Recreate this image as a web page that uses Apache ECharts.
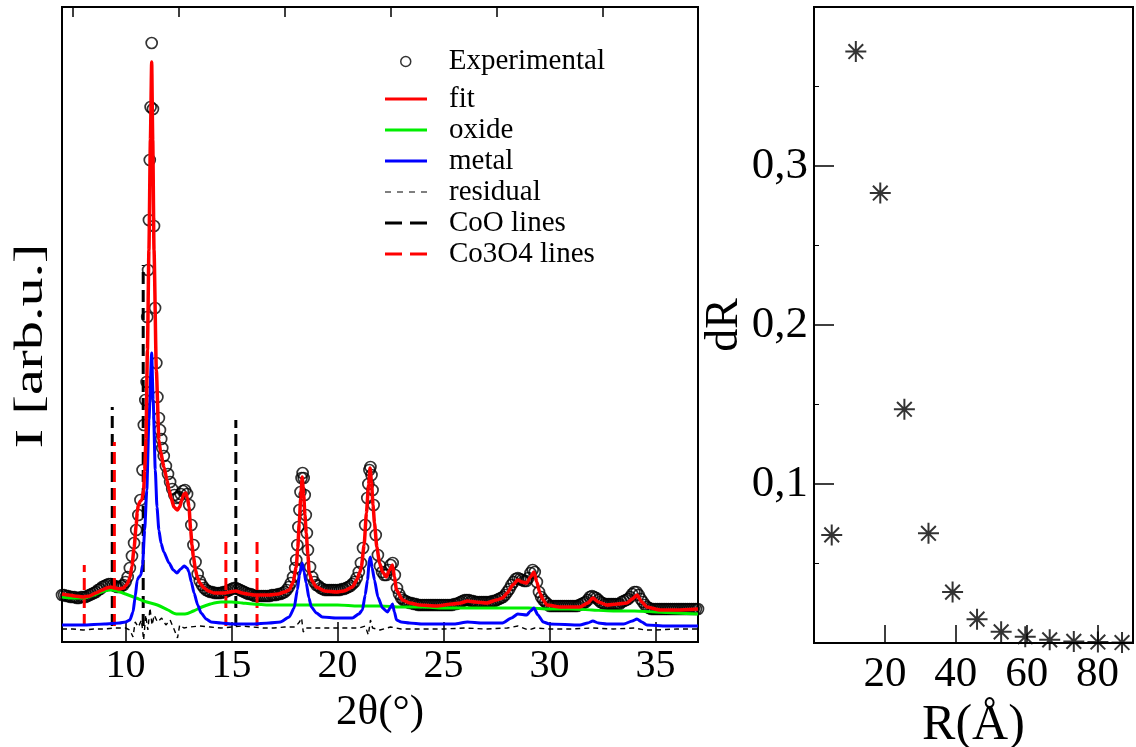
<!DOCTYPE html>
<html>
<head>
<meta charset="utf-8">
<script src="https://cdn.jsdelivr.net/npm/echarts@6/dist/echarts.min.js"></script>
<style>
html,body{margin:0;padding:0;background:#fff;}
#chart{width:1136px;height:747px;}
</style>
</head>
<body>
<div id="chart"></div>
<script>
// ---------- DATA (left panel: 2θ in degrees, intensity in arb. units) ----------
const expData = [
[7.0,47],[7.1,47],[7.2,46],[7.3,46],[7.4,45],[7.5,45],[7.6,45],[7.7,44],[7.8,44],[7.9,45],
[8.0,45],[8.1,45],[8.2,46],[8.3,47],[8.4,48],[8.5,49],[8.6,50],[8.7,52],[8.8,53],[8.9,55],
[9.0,56],[9.1,57],[9.2,58],[9.3,58],[9.4,57],[9.5,56],[9.6,55],[9.7,55],[9.8,56],[9.9,57],
[10.0,60],[10.1,65],[10.2,74],[10.3,86],[10.4,99],[10.5,112],[10.6,127],[10.7,142],[10.8,172],[10.86,217],
[10.93,242],[10.99,260],[11.02,325],[11.06,372],[11.1,422],[11.14,482],[11.18,535],[11.23,599],[11.29,533],[11.34,416],
[11.39,334],[11.45,279],[11.5,245],[11.57,224],[11.62,212],[11.68,203],[11.73,194],[11.8,186],[11.9,176],
[12.0,168],[12.1,160],[12.2,153],[12.3,147],[12.4,144],[12.5,145],[12.6,148],[12.7,151],[12.8,152],[12.9,148],
[13.0,137],[13.1,117],[13.2,97],[13.3,80],[13.4,68],[13.5,61],[13.6,57],[13.7,54],[13.8,52],[13.9,51],
[14.0,50],[14.1,50],[14.2,49],[14.3,49],[14.4,49],[14.5,49],[14.6,50],[14.7,50],[14.8,51],[14.9,52],
[15.0,53],[15.1,54],[15.2,54],[15.3,53],[15.4,52],[15.5,51],[15.6,50],[15.7,49],[15.8,48],[15.9,48],
[16.0,47],[16.1,46],[16.2,46],[16.3,46],[16.4,46],[16.5,46],[16.6,46],[16.7,46],[16.8,46],[16.9,47],
[17.0,47],[17.1,47],[17.2,48],[17.3,48],[17.4,49],[17.5,50],[17.6,52],[17.7,55],[17.8,59],[17.9,65],
[18.0,74],[18.05,82],[18.1,97],[18.15,115],[18.2,132],[18.25,150],[18.3,164],[18.35,169],[18.4,164],[18.45,147],
[18.5,127],[18.55,109],[18.6,92],[18.7,75],[18.8,65],[18.9,60],
[19.0,57],[19.1,56],[19.2,54],[19.3,53],[19.4,52],[19.5,52],[19.6,52],[19.7,52],[19.8,52],[19.9,52],
[20.0,52],[20.1,52],[20.2,53],[20.3,53],[20.4,54],[20.5,55],[20.6,56],[20.7,58],[20.8,60],[20.9,64],
[21.0,70],[21.1,79],[21.2,94],[21.3,117],[21.4,144],[21.45,158],[21.5,172],[21.55,175],[21.6,167],[21.65,152],
[21.7,137],[21.8,107],[21.9,87],
[22.0,76],[22.1,70],[22.2,67],[22.3,67],[22.4,72],[22.5,77],[22.6,79],[22.7,67],[22.8,54],[22.9,48],
[23.0,44],[23.1,42],[23.2,41],[23.3,40],[23.4,39],[23.5,39],[23.6,38],[23.7,38],[23.8,37],[23.9,37],
[24.0,37],[24.1,37],[24.2,37],[24.3,37],[24.4,37],[24.5,37],[24.6,37],[24.7,37],[24.8,37],[24.9,37],
[25.0,37],[25.1,37],[25.2,37],[25.3,37],[25.4,37],[25.5,38],[25.6,38],[25.7,39],[25.8,40],[25.9,41],
[26.0,42],[26.1,42],[26.2,42],[26.3,41],[26.4,41],[26.5,40],[26.6,40],[26.7,40],[26.8,40],[26.9,40],
[27.0,40],[27.1,40],[27.2,40],[27.3,41],[27.4,41],[27.5,42],[27.6,43],[27.7,44],[27.8,45],[27.9,47],
[28.0,50],[28.1,53],[28.2,57],[28.3,60],[28.4,63],[28.5,64],[28.6,63],[28.7,62],[28.8,61],[28.9,61],
[29.0,64],[29.1,69],[29.2,72],[29.3,70],[29.4,60],[29.5,50],[29.6,45],[29.7,42],[29.8,40],[29.9,38],
[30.0,36],[30.1,36],[30.2,36],[30.3,36],[30.4,36],[30.5,36],[30.6,36],[30.7,36],[30.8,36],[30.9,36],
[31.0,36],[31.1,36],[31.2,36],[31.3,36],[31.4,37],[31.5,38],[31.6,39],[31.7,40],[31.8,42],[31.9,45],
[32.0,46],[32.1,45],[32.2,44],[32.3,42],[32.4,40],[32.5,39],[32.6,38],[32.7,38],[32.8,38],[32.9,38],
[33.0,38],[33.1,38],[33.2,38],[33.3,38],[33.4,40],[33.5,41],[33.6,42],[33.7,43],[33.8,45],[33.9,48],
[34.0,50],[34.1,50],[34.2,47],[34.3,43],[34.4,40],[34.5,37],[34.6,35],[34.7,34],[34.8,33],[34.9,33],
[35.0,33],[35.1,33],[35.2,33],[35.3,33],[35.4,33],[35.5,33],[35.6,33],[35.7,33],[35.8,33],[35.9,33],
[36.0,33],[36.1,33],[36.2,33],[36.3,33],[36.4,33],[36.5,33],[36.6,33],[36.7,33],[36.8,33],[36.9,33],[37.0,33]
];
const fitData = [
[7.0,48],[7.3,47],[7.6,46],[8.0,45],[8.3,46],[8.6,49],[8.9,52],[9.1,54],[9.3,55],[9.5,54],[9.7,53],[9.9,54],
[10.0,56],[10.1,59],[10.2,64],[10.3,76],[10.4,94],[10.5,117],[10.55,130],[10.6,137],[10.7,141],[10.77,142],
[10.85,152],[10.9,172],[10.96,202],[11.03,292],[11.1,392],[11.17,502],[11.23,580],[11.28,502],[11.34,392],
[11.45,272],[11.57,202],[11.65,190],[11.81,175],[11.95,162],[12.05,152],[12.15,144],[12.28,135],[12.44,132],
[12.55,135],[12.65,142],[12.75,148],[12.84,149],[12.92,144],[12.99,135],[13.07,112],[13.13,97],[13.2,85],
[13.3,72],[13.38,65],[13.5,59],[13.7,54],[13.9,51],[14.17,49],[14.65,49],[14.9,50],[15.2,51],[15.5,49],
[15.75,48],[16.06,47],[16.77,47],[17.2,48],[17.5,50],[17.72,52],[17.9,60],[18.05,75],[18.12,94],[18.19,119],
[18.26,144],[18.33,165],[18.4,147],[18.46,127],[18.52,109],[18.6,87],[18.66,69],[18.8,61],[18.99,55],
[19.4,51],[19.94,50],[20.3,51],[20.7,55],[20.9,62],[21.05,70],[21.12,75],[21.25,97],[21.36,129],[21.46,157],
[21.53,174],[21.6,160],[21.67,137],[21.74,119],[21.85,95],[21.98,79],[22.12,70],[22.3,65],[22.45,72],
[22.59,77],[22.68,65],[22.78,52],[23.06,42],[23.4,39],[23.86,37],[24.67,36],[25.42,38],[25.8,39],[26.13,41],
[26.5,40],[27.03,39],[27.5,42],[27.78,44],[28.0,49],[28.26,57],[28.5,62],[28.7,60],[28.92,59],[29.1,65],
[29.26,70],[29.4,60],[29.54,49],[29.7,42],[29.87,37],[30.5,35],[31.43,35],[31.8,39],[32.04,44],[32.3,40],
[32.7,37],[33.2,38],[33.65,39],[33.9,43],[34.12,47],[34.35,40],[34.59,35],[35.21,32],[36.0,32],[37.0,33]
];
const oxideData = [
[7.0,45],[7.5,44],[8.0,44],[8.5,47],[9.0,51],[9.3,52],[9.6,51],[10.0,48],[10.5,44],[11.0,40],[11.5,37],
[12.0,32],[12.4,28],[12.8,28],[13.2,31],[13.6,35],[14.0,38],[14.5,40],[15.0,40],[15.5,39],[16.0,38],
[17.0,37],[18.0,37],[19.0,37],[20.0,37],[21.0,36],[22.0,36],[23.0,35],[24.0,35],[25.0,34],[26.0,34],
[27.0,34],[28.0,34],[29.0,34],[30.0,33],[31.0,33],[32.0,32],[33.0,31],[34.0,31],[35.0,30],[36.0,29],[37.0,28]
];
const metalData = [
[7.0,17],[8.0,17],[9.0,18],[9.7,19],[10.0,20],[10.2,22],[10.35,30],[10.45,45],[10.55,62],[10.63,65],
[10.72,67],[10.8,77],[10.9,112],[11.0,152],[11.1,222],[11.23,289],[11.3,242],[11.4,172],[11.48,135],
[11.57,112],[11.67,99],[11.8,90],[12.05,79],[12.25,72],[12.42,69],[12.6,73],[12.76,76],[12.9,74],[12.99,70],
[13.1,60],[13.23,49],[13.4,37],[13.56,29],[13.8,23],[14.03,20],[14.5,19],[15.0,18],[16.0,18],[16.77,19],
[17.3,20],[17.72,25],[17.95,34],[18.1,52],[18.2,67],[18.33,79],[18.42,70],[18.52,59],[18.65,44],[18.76,35],
[19.0,29],[19.28,25],[19.94,24],[20.7,24],[21.0,28],[21.17,32],[21.3,47],[21.41,62],[21.5,82],[21.55,85],
[21.63,74],[21.74,62],[21.9,45],[22.12,34],[22.35,30],[22.48,34],[22.59,38],[22.68,30],[22.78,22],[23.0,20],
[23.39,19],[24.0,18],[24.81,18],[25.5,18],[26.13,20],[26.8,19],[27.78,19],[28.2,24],[28.5,28],[28.92,27],
[29.1,31],[29.26,34],[29.45,27],[29.7,20],[30.0,18],[31.43,17],[31.8,19],[32.04,21],[32.3,19],[32.7,18],
[33.5,18],[33.9,21],[34.12,23],[34.35,20],[34.59,17],[35.5,16],[37.0,16]
];
const residualData = [
[7.0,13],[7.5,13],[8.0,12],[8.5,13],[9.0,13],[9.5,14],[10.0,14],[10.2,12],[10.35,5],[10.45,20],[10.6,15],
[10.75,22],[10.85,2],[10.95,27],[11.05,12],[11.15,34],[11.25,17],[11.35,27],[11.5,20],[11.7,24],[11.9,17],
[12.1,22],[12.3,12],[12.45,4],[12.55,17],[12.75,14],[13.0,15],[13.5,16],[14.0,15],[14.5,14],[15.0,15],
[15.5,16],[16.0,15],[16.5,14],[17.0,14],[17.5,15],[18.0,15],[18.2,20],[18.3,24],[18.38,10],[18.5,14],
[19.0,14],[20.0,14],[21.0,14],[21.3,16],[21.45,7],[21.55,22],[21.65,14],[22.0,12],[22.5,15],[23.0,13],
[24.0,13],[25.0,13],[26.0,14],[27.0,13],[28.0,14],[28.5,16],[29.0,12],[29.3,14],[30.0,13],[31.0,13],
[32.0,14],[33.0,13],[34.0,14],[34.5,12],[35.0,12],[36.0,13],[37.0,13]
];
// reference line positions [2θ, top intensity]; they start at the baseline value
const lineBase = 16;
const cooLines = [[9.37,235],[10.83,377],[15.2,222]];
const co3o4Lines = [[8.05,77],[9.47,200],[14.73,103],[16.2,106]];
const thetaMajorTicks = [10,15,20,25,30,35];
const thetaMinorTicks = [7.5,12.5,17.5,22.5,27.5,32.5];

// ---------- DATA (right panel) ----------
const sizeR = [5.0,11.8,18.7,25.5,32.3,39.1,46.0,52.8,59.6,66.5,73.3,80.1,86.9];
const dRvals = [0.068,0.372,0.283,0.147,0.069,0.032,0.015,0.007,0.004,0.002,0.001,0.0006,0.0003];
const rTicks = [20,40,60,80];
const dRTicks = [0.1,0.2,0.3];
const dRMinorTicks = [0.05,0.15,0.25,0.35];

// ---------- CHART ----------
const FONT = 'Liberation Serif';
const chart = echarts.init(document.getElementById('chart'), null, {renderer:'canvas'});

const series = [];
series.push({
  name:'Experimental', type:'scatter', xAxisIndex:0, yAxisIndex:0,
  data: expData, symbol:'circle', symbolSize:11, z:2,
  itemStyle:{color:'rgba(0,0,0,0)', borderColor:'#000', borderWidth:1.7},
  emphasis:{disabled:true}
});
series.push({name:'residual', type:'line', xAxisIndex:0, yAxisIndex:0, data:residualData,
  symbol:'none', z:3, lineStyle:{color:'#000', width:1.4, type:[5,4]}, itemStyle:{color:'#000'}});
cooLines.forEach(p => series.push({name:'CoO lines', type:'line', xAxisIndex:0, yAxisIndex:0,
  data:[[p[0],lineBase],[p[0],p[1]]], symbol:'none', z:4,
  lineStyle:{color:'#000', width:3, type:[12,6]}, itemStyle:{color:'#000'}}));
co3o4Lines.forEach(p => series.push({name:'Co3O4 lines', type:'line', xAxisIndex:0, yAxisIndex:0,
  data:[[p[0],lineBase],[p[0],p[1]]], symbol:'none', z:4,
  lineStyle:{color:'#ff0000', width:3, type:[12,6]}, itemStyle:{color:'#ff0000'}}));
series.push({name:'oxide', type:'line', xAxisIndex:0, yAxisIndex:0, data:oxideData, symbol:'none', z:5,
  smooth:0.3, lineStyle:{color:'#00ee00', width:3}, itemStyle:{color:'#00ee00'}});
series.push({name:'metal', type:'line', xAxisIndex:0, yAxisIndex:0, data:metalData, symbol:'none', z:5,
  smooth:0.2, smoothMonotone:'x', lineStyle:{color:'#0000ff', width:3}, itemStyle:{color:'#0000ff'}});
series.push({name:'fit', type:'line', xAxisIndex:0, yAxisIndex:0, data:fitData, symbol:'none', z:6,
  smooth:0.2, smoothMonotone:'x', lineStyle:{color:'#ff0000', width:3.5}, itemStyle:{color:'#ff0000'}});

series.push({name:'dR', type:'scatter', xAxisIndex:2, yAxisIndex:2,
  data: sizeR.map((r,i)=>[r,dRvals[i]]),
  symbol:'path://M0,10L20,10M10,0L10,20M3,3L17,17M17,3L3,17', symbolSize:21,
  itemStyle:{color:'rgba(0,0,0,0)', borderColor:'#000', borderWidth:2}, emphasis:{disabled:true}});

const labelStyle = {color:'#000', fontFamily:FONT, fontSize:40};
const nameStyle = {color:'#000', fontFamily:FONT, fontSize:43};
const legendText = {color:'#000', fontFamily:FONT, fontSize:29, lineHeight:29, padding:[0,0,0,17]};
const solid = 'path://M0,0h42v3.2h-42z';
const longDash = 'path://M0,0h17v3.2h-17zM25,0h17v3.2h-17z';
const shortDash = 'path://M0,0h6v1.2h-6zM12,0h6v1.2h-6zM24,0h6v1.2h-6zM36,0h6v1.2h-6z';

chart.setOption({
  animation:false,
  backgroundColor:'#fff',
  grid:[
    {left:62, top:7, width:636, height:635, outerBoundsMode:'none', containLabel:false,
     show:true, borderColor:'#000', borderWidth:2, backgroundColor:'rgba(0,0,0,0)'},
    {left:814, top:7, width:319, height:636, outerBoundsMode:'none', containLabel:false,
     show:true, borderColor:'#000', borderWidth:2, backgroundColor:'rgba(0,0,0,0)'}
  ],
  graphic:[
    {type:'text', x:31, y:346, rotation:Math.PI/2, scaleX:1.45, scaleY:1,
     style:{text:'I [arb.u.]', font:'40px "Liberation Serif"', fill:'#000', align:'center', verticalAlign:'middle'}}
  ],
  legend:[
    {data:[{name:'Experimental', icon:'circle'}], orient:'vertical', left:400, top:47, padding:0,
     itemWidth:42, itemHeight:10, textStyle:legendText,
     itemStyle:{color:'rgba(0,0,0,0)', borderColor:'#000', borderWidth:1.5}, selectedMode:false},
    {data:[
       {name:'fit', icon:solid, itemStyle:{color:'#ff0000', borderWidth:0}},
       {name:'oxide', icon:solid, itemStyle:{color:'#00ee00', borderWidth:0}},
       {name:'metal', icon:solid, itemStyle:{color:'#0000ff', borderWidth:0}},
       {name:'residual', icon:shortDash, itemStyle:{color:'#000', borderWidth:0}},
       {name:'CoO lines', icon:longDash, itemStyle:{color:'#000', borderWidth:0}},
       {name:'Co3O4 lines', icon:longDash, itemStyle:{color:'#ff0000', borderWidth:0}}
     ], orient:'vertical', left:385, top:84.5, padding:0,
     itemWidth:42, itemHeight:10, itemGap:2, textStyle:legendText, selectedMode:false}
  ],
  xAxis:[
    {gridIndex:0, type:'value', min:7, max:37, splitLine:{show:false},
     axisLine:{show:false},
     axisTick:{show:true, inside:true, length:20, customValues:thetaMajorTicks, lineStyle:{color:'#000', width:1.5}},
     axisLabel:{customValues:thetaMajorTicks, margin:4, ...labelStyle},
     name:'2θ(°)', nameLocation:'middle', nameGap:33, nameTextStyle:nameStyle},
    {gridIndex:0, type:'value', min:7, max:37, splitLine:{show:false}, axisLine:{show:false},
     axisTick:{show:true, inside:true, length:10, customValues:thetaMinorTicks, lineStyle:{color:'#000', width:1.5}},
     axisLabel:{show:false}},
    {gridIndex:1, type:'value', min:0, max:90, splitLine:{show:false}, axisLine:{show:false},
     axisTick:{show:true, inside:true, length:18, customValues:rTicks, lineStyle:{color:'#000', width:1.5}},
     axisLabel:{customValues:rTicks, margin:10, ...labelStyle, fontSize:43},
     name:'R(Å)', nameLocation:'middle', nameGap:54, nameTextStyle:{...nameStyle, fontSize:50}}
  ],
  yAxis:[
    {gridIndex:0, type:'value', min:0, max:635, position:'left', splitLine:{show:false}, axisLine:{show:false},
     axisTick:{show:false}, axisLabel:{show:false}},
    {gridIndex:1, type:'value', min:0, max:0.4, position:'left', splitLine:{show:false}, axisLine:{show:false},
     axisTick:{show:true, inside:true, length:5, customValues:dRMinorTicks, lineStyle:{color:'#000', width:1}},
     axisLabel:{show:false}},
    {gridIndex:1, type:'value', min:0, max:0.4, position:'left', splitLine:{show:false}, axisLine:{show:false},
     axisTick:{show:true, inside:true, length:20, customValues:dRTicks, lineStyle:{color:'#000', width:1.5}},
     axisLabel:{customValues:dRTicks, margin:6, formatter:v=>v.toFixed(1).replace('.',','), ...labelStyle, fontSize:45},
     name:'dR', nameLocation:'middle', nameGap:48, nameTextStyle:{...nameStyle, fontSize:46}}
  ],
  series: series
});
</script>
</body>
</html>
